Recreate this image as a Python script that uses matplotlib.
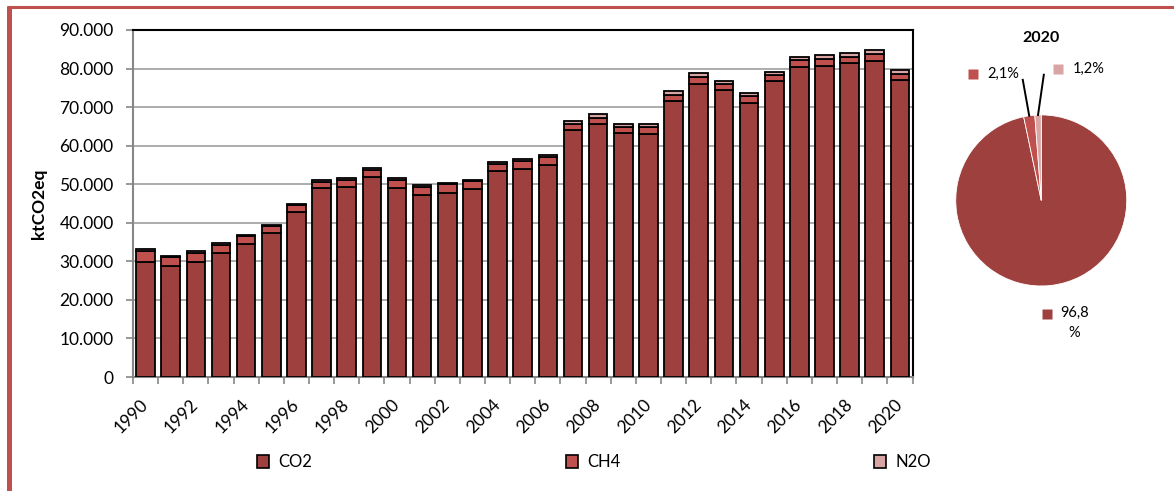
import numpy as np
import matplotlib
matplotlib.use("Agg")
import matplotlib.pyplot as plt
from matplotlib.lines import Line2D
from matplotlib.patches import Patch
from matplotlib.ticker import FuncFormatter, MultipleLocator

plt.rcParams['font.family'] = ['Lato', 'DejaVu Sans']

years = list(range(1990, 2021))
# emissions by gas, ktCO2eq
co2 = [29900, 28700, 29900, 32100, 34400, 37300, 42700, 49000, 49400, 51800,
       49100, 47200, 47800, 48800, 53400, 53900, 55000, 64000, 65700, 63200,
       63000, 71600, 76100, 74400, 71100, 76700, 80300, 80700, 81500, 82000,
       77000]
ch4 = [2900, 2400, 2300, 2200, 2100, 1800, 1900, 1700, 1800, 2000,
       2100, 2100, 2200, 2000, 1900, 2100, 2000, 1700, 1600, 1700,
       1800, 1600, 1800, 1600, 1700, 1600, 1800, 1800, 1600, 1700,
       1700]
n2o = [400, 400, 400, 400, 400, 400, 400, 400, 400, 400,
       400, 400, 400, 400, 500, 500, 500, 800, 800, 800,
       800, 900, 900, 900, 900, 900, 1000, 1000, 1000, 1000,
       950]

gases = ['CO2', 'CH4', 'N2O']
share_2020 = [96.8, 2.1, 1.2]
share_labels = ['96,8\n%', '2,1%', '1,2%']
colors = ['#9E413E', '#C0504D', '#D9A5A4']

W, H = 1174, 491
fig = plt.figure(figsize=(W / 100, H / 100), dpi=100)

# stacked columns
ax = fig.add_axes([133 / W, 1 - 377 / H, 779.5 / W, 347 / H])
x = np.arange(len(years))
bottom = np.zeros(len(years))
for vals, c in zip([co2, ch4, n2o], colors):
    ax.bar(x, vals, bottom=bottom, width=0.74, color=c, edgecolor='black',
           linewidth=1.3, zorder=3)
    bottom += np.array(vals)

ax.set_xlim(-0.5, len(years) - 0.5)
ax.set_ylim(0, 90000)
ax.yaxis.set_major_locator(MultipleLocator(10000))
ax.yaxis.set_major_formatter(FuncFormatter(lambda v, p: f"{int(v):,}".replace(',', '.')))
ax.grid(axis='y', color='#A6A6A6', linewidth=1.3, zorder=0)

ax.set_xticks(x[::2])
ax.set_xticklabels([str(y) for y in years[::2]])
ax.set_xticks(np.arange(-0.5, len(years)), minor=True)
ax.tick_params(axis='x', which='major', length=0, pad=18, labelsize=12.5)
ax.tick_params(axis='x', which='minor', length=5, width=1.2, color='#868686')
ax.tick_params(axis='y', length=5, width=1.2, color='#868686', pad=9, labelsize=12.5)
for lab in ax.get_xticklabels():
    lab.set_rotation(45)
    lab.set_ha('right')
    lab.set_va('center')
    lab.set_rotation_mode('anchor')

for s in ['left', 'bottom']:
    ax.spines[s].set_color('#868686')
    ax.spines[s].set_linewidth(1.5)
for s in ['top', 'right']:
    ax.spines[s].set_color('black')
    ax.spines[s].set_linewidth(1.5)

ax.set_ylabel('ktCO2eq', fontsize=12.5, fontweight='bold')
ax.yaxis.set_label_coords(-0.11, 0.5)

# 2020 share pie
ax2 = fig.add_axes([913 / W, 1 - 354.4 / H, 256.5 / W, 325 / H])
wedges, _ = ax2.pie(share_2020, colors=colors, startangle=90, counterclock=False,
                    wedgeprops=dict(edgecolor='white', linewidth=0.6))
ax2.set_aspect('auto')
ax2.set_xlim(-1.5, 1.5)
ax2.set_ylim(-1.8, 2.0)
ax2.axis('off')
ax2.text(0, 1.9, '2020', ha='center', va='center', fontsize=11.5, fontweight='bold')

marker_pos = [(0.064, -1.33), (-0.80, 1.48), (0.193, 1.54)]
text_pos = [(0.39, -1.43, 'center'), (-0.626, 1.48, 'left'), (0.368, 1.54, 'left')]
leader_out = [None, (-0.216, 1.41), (0.03, 1.47)]
for w, c, lab, mp, tp, lo in zip(wedges, colors, share_labels, marker_pos, text_pos, leader_out):
    ax2.plot(mp[0], mp[1], marker='s', ms=7, color=c, mec='none')
    ax2.text(tp[0], tp[1], lab, ha=tp[2], va='center', fontsize=10.5,
             multialignment='center', linespacing=1.5)
    if lo is not None:
        ang = np.deg2rad((w.theta1 + w.theta2) / 2)
        ax2.plot([lo[0], np.cos(ang)], [lo[1], np.sin(ang)], color='black', lw=1.4)

# legend
handles = [Patch(facecolor=c, edgecolor='black', linewidth=1.2) for c in colors]
fig.legend(handles, gases, ncol=3, loc='center left', frameon=False,
           bbox_to_anchor=(257 / W, 1 - 462 / H), fontsize=12,
           handlelength=0.7, handleheight=0.8, handletextpad=0.6,
           columnspacing=15.2, borderpad=0, borderaxespad=0)

# page frame
fig.add_artist(Line2D([9 / W, 9 / W], [0, 1 - 6 / H], color='#C0504D', lw=3.6,
                      transform=fig.transFigure, solid_capstyle='butt'))
fig.add_artist(Line2D([7 / W, 1], [1 - 6.5 / H, 1 - 6.5 / H], color='#C0504D', lw=2.2,
                      transform=fig.transFigure, solid_capstyle='butt'))

fig.savefig('out.png', dpi=100)
